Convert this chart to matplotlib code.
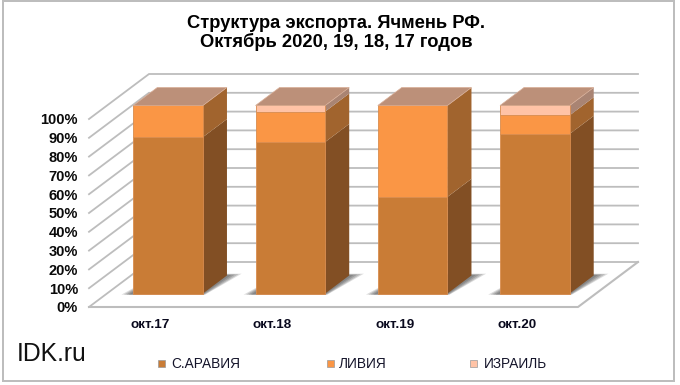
import matplotlib
matplotlib.use("Agg")
import matplotlib.pyplot as plt
from matplotlib.patches import Polygon

plt.rcParams['font.family'] = ['Liberation Sans', 'DejaVu Sans']

title = "Структура экспорта. Ячмень РФ.\nОктябрь 2020, 19, 18, 17 годов"
categories = ["окт.17", "окт.18", "окт.19", "окт.20"]
series_names = ["С.АРАВИЯ", "ЛИВИЯ", "ИЗРАИЛЬ"]
saudi = [83.2, 80.6, 51.4, 84.9]
libya = [16.8, 16.2, 48.6, 9.9]
israel = [0.0, 3.2, 0.0, 5.2]
yticks = list(range(0, 101, 10))
ylabels = [f"{v}%" for v in yticks]

front_cols = ["#C97C36", "#FA9645", "#FFC3A6"]
side_cols = ["#824F24", "#A1642E", "#A98473"]
top_col = "#BC9079"
grid = "#BDBDBD"

W, H = 680, 385
fig = plt.figure(figsize=(W / 100, H / 100), dpi=100, facecolor="white")
L, R, B, T = 89, 578, 307, 119
ax = fig.add_axes([L / W, 1 - B / H, (R - L) / W, (B - T) / H])
ax.set_xlim(0, 4)
ax.set_ylim(0, 100)
ax.patch.set_visible(False)
for s in ax.spines.values():
    s.set_visible(False)

# oblique projection: depth d in [0, 1] shifts a point right and up
DX = 60 / ((R - L) / 4)
DY = 45 / ((B - T) / 100)


def P(x, y, d):
    return (x + d * DX, y + d * DY)


def quad(pts, fc, z, ec=None, alpha=1.0, lw=0.0):
    ax.add_patch(Polygon(pts, closed=True, fc=fc, ec=ec or fc, lw=lw, zorder=z,
                         alpha=alpha, clip_on=False))


# walls and floor lines
for v in yticks:
    ax.plot([P(0, v, 0)[0], P(0, v, 1)[0], P(4, v, 1)[0]],
            [P(0, v, 0)[1], P(0, v, 1)[1], P(4, v, 1)[1]],
            color=grid, lw=1.3, zorder=1, clip_on=False, solid_joinstyle="miter")
fl = [P(0, 0, 0), P(4, 0, 0), P(4, 0, 1)]
ax.plot([p[0] for p in fl], [p[1] for p in fl], color=grid, lw=1.5, zorder=1, clip_on=False)

d0, d1 = 0.30, 0.70
width = 0.57
# left spread, right spread at the front, right spread at the back, back depth, opacity
shadow_steps = [(0.085, 0.03, 0.10, 0.74, 0.22), (0.065, 0.024, 0.08, 0.73, 0.28),
                (0.045, 0.016, 0.055, 0.72, 0.32), (0.025, 0.008, 0.03, 0.71, 0.36)]
for i, cat in enumerate(categories):
    cx = i + 0.5
    x0, x1 = cx - width / 2, cx + width / 2
    # soft shadow on the floor
    for sl, sr, srb, dtop, a in shadow_steps:
        quad([P(x0 - sl, 0, d0 - 0.025), P(x1 + sr, 0, d0 - 0.025),
              P(x1 + srb, 0, dtop), P(x0, 0, dtop)],
             "#606060", 2, alpha=a)
    base = 0.0
    vals = [saudi[i], libya[i], israel[i]]
    for j, v in enumerate(vals):
        if v <= 0:
            continue
        top = base + v
        quad([P(x1, base, d0), P(x1, base, d1), P(x1, top, d1), P(x1, top, d0)],
             side_cols[j], 3 + j)
        quad([P(x0, base, d0), P(x1, base, d0), P(x1, top, d0), P(x0, top, d0)],
             front_cols[j], 6 + j, ec="#D98C4E", lw=0.6)
        base = top
    # top face, coloured by the topmost series
    quad([P(x0, 100, d0), P(x1, 100, d0), P(x1, 100, d1), P(x0, 100, d1)], top_col, 10,
         ec="#D8AE97", lw=0.5)

ax.set_xticks([i + 0.5 for i in range(4)], categories, fontsize=9.7, fontweight="bold", color="#0A0A1E")
ax.set_yticks(yticks, ylabels, fontsize=10.5, fontweight="bold", color="#0A0A0A")
ax.tick_params(axis="both", length=0)
ax.tick_params(axis="x", pad=9)
ax.tick_params(axis="y", pad=8)

fig.text(336 / W, 1 - 33 / H, title, ha="center", va="center", fontsize=13.25, fontweight="bold",
         linespacing=1.07, color="#000000")
fig.text(17 / W, 1 - 354 / H, "IDK.ru", ha="left", va="center", fontsize=17.8, color="#111111")

# legend
xs = [162, 330, 473]
txs = [171, 339, 484]
for name, col, xp, tx in zip(series_names, front_cols, xs, txs):
    fig.add_artist(plt.Rectangle((xp / W - 3.5 / W, 1 - 366.5 / H), 7 / W, 7 / H,
                                 transform=fig.transFigure, fc=col, ec="#999999", lw=0.5))
    fig.text(tx / W, 1 - 363.5 / H, name, ha="left", va="center", fontsize=9.8, color="#14142A")

# border
fig.add_artist(plt.Rectangle((3 / W, 1 - 381 / H), 671 / W, 380 / H, transform=fig.transFigure,
                             fc="none", ec=grid, lw=1.44))
fig.savefig("out.png", dpi=100, facecolor="white")
